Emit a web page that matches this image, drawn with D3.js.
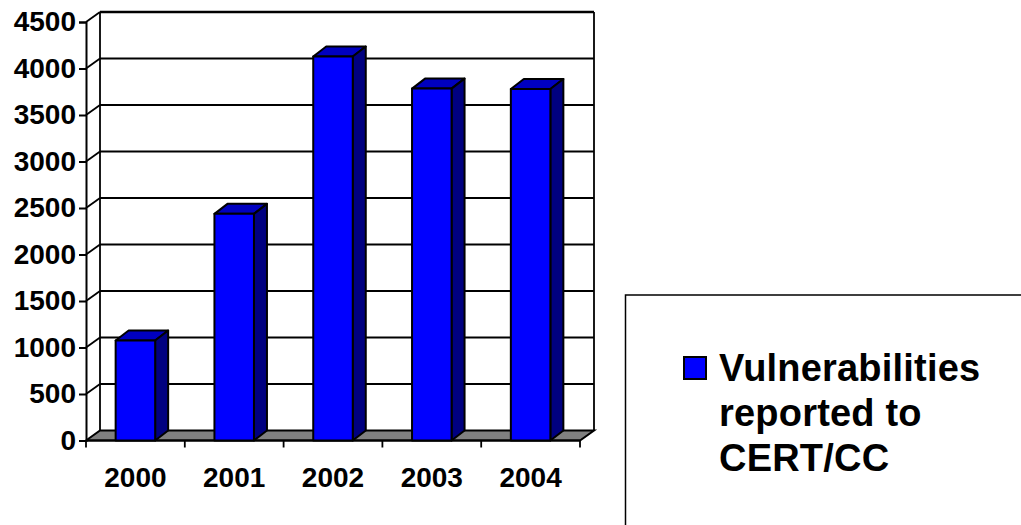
<!DOCTYPE html>
<html>
<head>
<meta charset="utf-8">
<script src="https://cdn.jsdelivr.net/npm/d3@7"></script>
<style>
html, body { margin: 0; padding: 0; background: #fff; overflow: hidden; }
text { font-family: "Liberation Sans", Arial, sans-serif; font-weight: bold; fill: #000; }
</style>
</head>
<body>
<div id="chart-area"></div>
<script>
var years = ["2000", "2001", "2002", "2003", "2004"];
var vulnerabilities = [1075, 2437, 4129, 3784, 3780];
var yTicks = [0, 500, 1000, 1500, 2000, 2500, 3000, 3500, 4000, 4500];
var legendLines = ["Vulnerabilities", "reported to", "CERT/CC"];

var width = 1021, height = 525;

// front plane of the 3d box, the back wall is shifted by dx, dy
var left = 86, right = 580, top_ = 22, bottom = 440.5;
var dx = 14, dy = -10;
var barDx = 13, barDy = -10;

var svg = d3.select("#chart-area")
    .append("svg")
        .attr("width", width)
        .attr("height", height)
        .style("display", "block");

var x = d3.scaleBand()
    .domain(years)
    .range([left, right])
    .paddingInner(0.6)
    .paddingOuter(0.3);

var xTicksScale = d3.scalePoint()
    .domain(d3.range(years.length + 1))
    .range([left, right]);

var y = d3.scaleLinear()
    .domain([0, 4500])
    .range([bottom, top_]);

// Floor
svg.append("polygon")
    .attr("points", [[left, bottom], [left + dx, bottom + dy], [right + dx, bottom + dy], [right, bottom]].join(" "))
    .attr("fill", "#808080")
    .attr("stroke", "#000")
    .attr("stroke-width", 2);

// Gridlines on the wall and on the left side
var grid = svg.append("g");
grid.selectAll("line.back")
    .data(yTicks.slice(1))
    .enter().append("line")
        .attr("class", "back")
        .attr("x1", left + dx)
        .attr("x2", right + dx)
        .attr("y1", function(d) { return y(d) + dy; })
        .attr("y2", function(d) { return y(d) + dy; })
        .attr("stroke", "#000")
        .attr("stroke-width", function(d) { return d === 4500 ? 2.5 : 1.8; });
grid.selectAll("line.side")
    .data(yTicks.slice(1))
    .enter().append("line")
        .attr("class", "side")
        .attr("x1", left)
        .attr("x2", left + dx)
        .attr("y1", function(d) { return y(d); })
        .attr("y2", function(d) { return y(d) + dy; })
        .attr("stroke", "#000")
        .attr("stroke-width", 1.8);

// Wall verticals
[left + dx, right + dx].forEach(function(px) {
    svg.append("line")
        .attr("x1", px).attr("x2", px)
        .attr("y1", y(4500) + dy).attr("y2", bottom + dy)
        .attr("stroke", "#000")
        .attr("stroke-width", 1.8);
});

// Y axis
var yAxisCall = d3.axisLeft(y)
    .tickValues(yTicks)
    .tickSize(7)
    .tickPadding(3)
    .tickFormat(function(d) { return d; });
var yAxisGroup = svg.append("g")
    .attr("transform", "translate(" + left + ",0)")
    .call(yAxisCall);
yAxisGroup.selectAll("path").attr("stroke", "#000").attr("stroke-width", 2);
yAxisGroup.selectAll("line").attr("stroke", "#000").attr("stroke-width", 2);
yAxisGroup.selectAll("text").attr("font-size", "28px").attr("dy", "0.31em");

// X axis line and ticks
svg.append("line")
    .attr("x1", left).attr("x2", right)
    .attr("y1", bottom).attr("y2", bottom)
    .attr("stroke", "#000")
    .attr("stroke-width", 2);
svg.selectAll("line.xtick")
    .data(xTicksScale.domain())
    .enter().append("line")
        .attr("class", "xtick")
        .attr("x1", function(d) { return xTicksScale(d); })
        .attr("x2", function(d) { return xTicksScale(d); })
        .attr("y1", bottom)
        .attr("y2", bottom + 7)
        .attr("stroke", "#000")
        .attr("stroke-width", 1.8);
svg.selectAll("text.xlabel")
    .data(years)
    .enter().append("text")
        .attr("class", "xlabel")
        .attr("x", function(d) { return x(d) + x.bandwidth() / 2; })
        .attr("y", bottom + 46)
        .attr("text-anchor", "middle")
        .attr("font-size", "28px")
        .text(function(d) { return d; });

// Bars
var bars = svg.selectAll("g.bar")
    .data(years.map(function(d, i) { return { year: d, value: vulnerabilities[i] }; }))
    .enter().append("g")
        .attr("class", "bar")
        .attr("stroke", "#000")
        .attr("stroke-width", 2)
        .attr("stroke-linejoin", "round");

function barLeft(d) { return x(d.year); }
function barRight(d) { return x(d.year) + x.bandwidth(); }

// top face
bars.append("polygon")
    .attr("fill", "#0000c0")
    .attr("points", function(d) {
        var t = y(d.value);
        return [[barLeft(d), t], [barLeft(d) + barDx, t + barDy], [barRight(d) + barDx, t + barDy], [barRight(d), t]].join(" ");
    });
// side face
bars.append("polygon")
    .attr("fill", "#000080")
    .attr("points", function(d) {
        var t = y(d.value);
        return [[barRight(d), t], [barRight(d) + barDx, t + barDy], [barRight(d) + barDx, bottom + barDy], [barRight(d), bottom]].join(" ");
    });
// front face
bars.append("rect")
    .attr("fill", "#0000ff")
    .attr("x", barLeft)
    .attr("y", function(d) { return y(d.value); })
    .attr("width", x.bandwidth())
    .attr("height", function(d) { return bottom - y(d.value); });

// Legend box, cut off by the edge of the picture
svg.append("path")
    .attr("d", "M625.5," + height + "V295H" + width)
    .attr("fill", "none")
    .attr("stroke", "#000")
    .attr("stroke-width", 1.5);

svg.append("rect")
    .attr("x", 684)
    .attr("y", 357)
    .attr("width", 22)
    .attr("height", 22)
    .attr("fill", "#0000ff")
    .attr("stroke", "#000")
    .attr("stroke-width", 2);

svg.selectAll("text.legend")
    .data(legendLines)
    .enter().append("text")
        .attr("class", "legend")
        .attr("x", 719)
        .attr("y", function(d, i) { return 381 + i * 45; })
        .attr("font-size", "38px")
        .attr("letter-spacing", "0.2px")
        .text(function(d) { return d; });
</script>
</body>
</html>
